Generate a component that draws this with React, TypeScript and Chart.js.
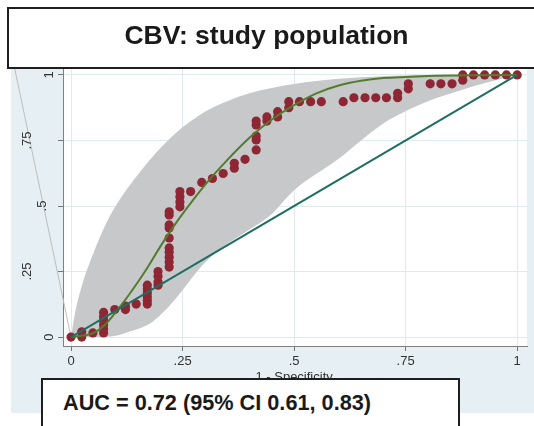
import React, { useEffect, useRef } from "react";
import { Chart, registerables } from "chart.js";

Chart.register(...registerables);

// ---- data ----
const titleText = "CBV: study population";
const aucText = "AUC = 0.72 (95% CI 0.61, 0.83)";
const xAxisTitle = "1 - Specificity";

const xTicks = [0, 0.25, 0.5, 0.75, 1];
const xTickLabels = ["0", ".25", ".5", ".75", "1"];
const yTicks = [0, 0.25, 0.5, 0.75, 1];
const yTickLabels = ["0", ".25", ".5", ".75", "1"];

// empirical ROC points (1 - specificity, sensitivity)
const rocFpr = [
  0, 0.024, 0.024, 0.049,
  0.073, 0.073, 0.073, 0.073, 0.073, 0.073,
  0.098, 0.122, 0.122, 0.146,
  0.171, 0.171, 0.171, 0.171, 0.171, 0.171,
  0.195, 0.195, 0.195, 0.195,
  0.22, 0.22, 0.22, 0.22, 0.22, 0.22, 0.22, 0.22, 0.22, 0.22,
  0.244, 0.244, 0.244, 0.244,
  0.268, 0.293, 0.317, 0.341, 0.366, 0.366, 0.39,
  0.415, 0.415, 0.415, 0.415, 0.415,
  0.439, 0.439, 0.463, 0.463, 0.488, 0.488,
  0.512, 0.537, 0.561, 0.61,
  0.634, 0.659, 0.683, 0.707, 0.732, 0.732,
  0.756, 0.756, 0.805, 0.829, 0.854,
  0.878, 0.878, 0.902, 0.927, 0.951, 0.976, 1,
];
const rocTpr = [
  0, 0, 0.02, 0.016,
  0.016, 0.031, 0.047, 0.063, 0.078, 0.094,
  0.105, 0.105, 0.118, 0.126,
  0.126, 0.14, 0.154, 0.168, 0.183, 0.198,
  0.198, 0.21, 0.232, 0.25,
  0.267, 0.286, 0.305, 0.324, 0.34, 0.378, 0.416, 0.428, 0.466, 0.478,
  0.497, 0.515, 0.535, 0.555,
  0.555, 0.59, 0.605, 0.624, 0.644, 0.663, 0.678,
  0.714, 0.752, 0.767, 0.809, 0.824,
  0.824, 0.84, 0.84, 0.86, 0.875, 0.898,
  0.898, 0.898, 0.898, 0.898,
  0.913, 0.913, 0.913, 0.913, 0.913, 0.93,
  0.947, 0.966, 0.966, 0.966, 0.966,
  0.98, 1, 1, 1, 1, 1, 1,
];

// fitted (binormal) ROC curve
const fitX = [0, 0.02, 0.05, 0.075, 0.1, 0.125, 0.15, 0.175, 0.2, 0.225, 0.25, 0.3, 0.35, 0.4, 0.45, 0.5, 0.55, 0.6, 0.65, 0.7, 0.8, 0.9, 1];
const fitY = [0, 0.004, 0.015, 0.045, 0.095, 0.15, 0.21, 0.275, 0.345, 0.41, 0.47, 0.58, 0.675, 0.76, 0.83, 0.885, 0.93, 0.96, 0.978, 0.988, 0.996, 0.999, 1];

// confidence band
const bandUpperX = [0, 0.01, 0.025, 0.05, 0.075, 0.1, 0.15, 0.2, 0.25, 0.3, 0.35, 0.4, 0.5, 0.6, 0.7, 0.8, 1];
const bandUpperY = [0, 0.1, 0.2, 0.32, 0.42, 0.5, 0.62, 0.72, 0.8, 0.86, 0.9, 0.93, 0.965, 0.985, 0.995, 1, 1];
const bandLowerX = [0, 0.05, 0.09, 0.13, 0.18, 0.21, 0.245, 0.29, 0.33, 0.4, 0.45, 0.5, 0.6, 0.65, 0.7, 0.76, 0.8, 0.87, 0.93, 1];
const bandLowerY = [0, 0, 0.002, 0.02, 0.055, 0.1, 0.168, 0.265, 0.33, 0.41, 0.47, 0.56, 0.68, 0.75, 0.815, 0.87, 0.9, 0.94, 0.97, 1];

// reference diagonal
const refX = [0, 1];
const refY = [0, 1];

// stray line from the origin (image artifact)
const strayX = [0, -0.138];
const strayY = [0, 1.12];

const pts = (xs: number[], ys: number[]) => xs.map((x, i) => ({ x, y: ys[i] }));

const FONT = '"Liberation Sans", Arial, Helvetica, sans-serif';

const stataPlugin = {
  id: "stataDeco",
  beforeDraw(chart: any) {
    const { ctx, chartArea, width, height } = chart;
    ctx.save();
    ctx.fillStyle = "#ffffff";
    ctx.fillRect(0, 0, width, height);
    ctx.fillStyle = "rgb(230,239,243)";
    ctx.fillRect(11, 10, width - 11, 413 - 10);
    ctx.fillStyle = "#ffffff";
    ctx.fillRect(chartArea.left, chartArea.top, chartArea.right - chartArea.left, chartArea.bottom - chartArea.top);
    ctx.restore();
  },
  afterDraw(chart: any) {
    const { ctx } = chart;
    const ys = chart.scales.y;
    const xs = chart.scales.x;
    ctx.save();
    ctx.font = `13px ${FONT}`;
    ctx.fillStyle = "#333333";
    ctx.textAlign = "center";
    ctx.textBaseline = "middle";
    yTicks.forEach((v, i) => {
      const lab = yTickLabels[i];
      const w = ctx.measureText(lab).width;
      const cx = ys.right + 1 - 2 * w;
      const cy = ys.getPixelForValue(v);
      ctx.save();
      ctx.translate(cx, cy);
      ctx.rotate(-Math.PI / 2);
      ctx.fillText(lab, 0, 0);
      ctx.restore();
    });
    const mid = (xs.getPixelForValue(0) + xs.getPixelForValue(1)) / 2;
    ctx.fillText(xAxisTitle, mid, xs.bottom - 80 + 31);
    ctx.restore();
  },
};

export default function App() {
  const ref = useRef<HTMLCanvasElement | null>(null);

  useEffect(() => {
    if (!ref.current) return;
    const chart = new Chart(ref.current, {
      type: "line",
      data: {
        datasets: [
          {
            label: "upper",
            data: pts(bandUpperX, bandUpperY),
            borderWidth: 0,
            borderColor: "rgba(0,0,0,0)",
            pointRadius: 0,
            fill: "+1",
            backgroundColor: "rgb(199,200,202)",
            cubicInterpolationMode: "monotone",
            order: 10,
          },
          {
            label: "lower",
            data: pts(bandLowerX, bandLowerY),
            borderWidth: 0,
            borderColor: "rgba(0,0,0,0)",
            pointRadius: 0,
            fill: false,
            cubicInterpolationMode: "monotone",
            order: 9,
          },
          {
            label: "stray",
            data: pts(strayX, strayY),
            borderWidth: 1,
            borderColor: "rgb(190,190,190)",
            pointRadius: 0,
            fill: false,
            clip: false as any,
            order: 8,
          },
          {
            label: "empirical",
            data: pts(rocFpr, rocTpr),
            showLine: false,
            pointRadius: 4.6,
            pointBackgroundColor: "rgb(143,38,52)",
            pointBorderColor: "rgb(143,38,52)",
            pointBorderWidth: 0,
            order: 3,
          },
          {
            label: "fitted",
            data: pts(fitX, fitY),
            borderWidth: 2,
            borderColor: "rgb(82,125,45)",
            pointRadius: 0,
            fill: false,
            cubicInterpolationMode: "monotone",
            order: 2,
          },
          {
            label: "reference",
            data: pts(refX, refY),
            borderWidth: 2,
            borderColor: "rgb(30,110,100)",
            pointRadius: 0,
            fill: false,
            order: 1,
          },
        ],
      },
      options: {
        animation: false,
        responsive: false,
        maintainAspectRatio: false,
        devicePixelRatio: 1,
        layout: { padding: { left: 0, top: 60, right: 7, bottom: 0 } },
        plugins: {
          legend: { display: false },
          tooltip: { enabled: false },
          title: { display: false },
        },
        events: [],
        scales: {
          x: {
            type: "linear",
            min: -0.018,
            max: 1.022,
            afterBuildTicks: (s: any) => {
              s.ticks = xTicks.map((v) => ({ value: v }));
            },
            afterFit: (s: any) => {
              s.height = 80;
            },
            ticks: {
              callback: (_v: any, i: number) => xTickLabels[i],
              font: { family: FONT, size: 13 },
              color: "#333333",
              padding: 3,
              maxRotation: 0,
              minRotation: 0,
            },
            grid: {
              color: "rgb(224,235,240)",
              lineWidth: 1,
              drawTicks: true,
              tickLength: 5,
              tickColor: "#777777",
            },
            border: { display: true, color: "#808080", width: 1 },
          },
          y: {
            type: "linear",
            min: -0.034,
            max: 1.057,
            afterBuildTicks: (s: any) => {
              s.ticks = yTicks.map((v) => ({ value: v }));
            },
            afterFit: (s: any) => {
              s.width = 63;
            },
            ticks: { display: false },
            grid: {
              color: "rgb(224,235,240)",
              lineWidth: 1,
              drawTicks: true,
              tickLength: 5,
              tickColor: "#777777",
            },
            border: { display: true, color: "#808080", width: 1 },
          },
        },
      },
      plugins: [stataPlugin],
    } as any);
    return () => chart.destroy();
  }, []);

  return (
    <div style={{ position: "absolute", left: 0, top: 0, width: 534, height: 426, overflow: "hidden", background: "#fff" }}>
      <canvas ref={ref} width={534} height={426} style={{ position: "absolute", left: 0, top: 0, width: 534, height: 426 }} />
      <div
        style={{
          position: "absolute",
          left: 7,
          top: 7,
          width: 560,
          height: 62,
          boxSizing: "border-box",
          border: "2px solid #1e1e1e",
          background: "#fff",
        }}
      />
      <div
        style={{
          position: "absolute",
          left: 0,
          top: 22,
          width: 533,
          textAlign: "center",
          fontFamily: FONT,
          fontWeight: "bold",
          fontSize: 26.5,
          lineHeight: "26.5px",
          color: "#1a1a1a",
          whiteSpace: "nowrap",
        }}
      >
        {titleText}
      </div>
      <div
        style={{
          position: "absolute",
          left: 41,
          top: 378,
          width: 419,
          height: 70,
          boxSizing: "border-box",
          border: "2px solid #1e1e1e",
          background: "#fff",
        }}
      />
      <div
        style={{
          position: "absolute",
          left: 63,
          top: 392,
          fontFamily: FONT,
          fontWeight: "bold",
          fontSize: 21.7,
          lineHeight: "21.7px",
          color: "#1a1a1a",
          whiteSpace: "nowrap",
        }}
      >
        {aucText}
      </div>
    </div>
  );
}
